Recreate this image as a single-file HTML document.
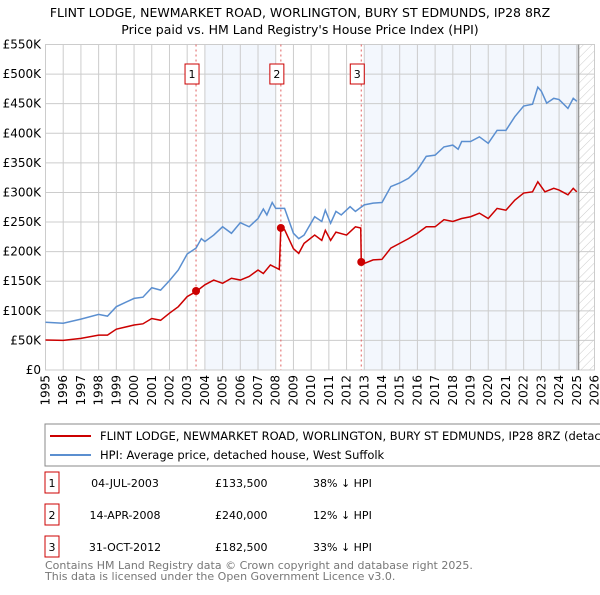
<!DOCTYPE html>
<html><head><meta charset="utf-8"><style>
body{margin:0;background:#fff;font-family:"Liberation Sans","DejaVu Sans",sans-serif;}
svg text{font-family:"DejaVu Sans","Liberation Sans",sans-serif;}
</style></head><body>
<svg id="c" width="600" height="590" xmlns="http://www.w3.org/2000/svg">
<defs><pattern id="hatch" width="6" height="6" patternUnits="userSpaceOnUse" patternTransform="rotate(45)"><line x1="0" y1="0" x2="0" y2="6" stroke="#ccc" stroke-width="1"/></pattern></defs>
<text x="300" y="17" text-anchor="middle" font-size="12.5" fill="#000">FLINT LODGE, NEWMARKET ROAD, WORLINGTON, BURY ST EDMUNDS, IP28 8RZ</text>
<text x="300" y="34" text-anchor="middle" font-size="12.5" fill="#000">Price paid vs. HM Land Registry's House Price Index (HPI)</text>
<g id="plot"></g>
<rect x="45" y="424" width="560" height="42" fill="#fff" stroke="#888"/>
<line x1="50" y1="436" x2="91" y2="436" stroke="#cc0000" stroke-width="2"/>
<text x="100" y="440" font-size="11.5">FLINT LODGE, NEWMARKET ROAD, WORLINGTON, BURY ST EDMUNDS, IP28 8RZ (detached house)</text>
<line x1="50" y1="455" x2="91" y2="455" stroke="#5b8fd0" stroke-width="2"/>
<text x="100" y="459" font-size="11.5">HPI: Average price, detached house, West Suffolk</text>
<g id="table" font-size="11"></g>
<text x="45" y="569" font-size="11" fill="#777">Contains HM Land Registry data © Crown copyright and database right 2025.</text>
<text x="45" y="580" font-size="11" fill="#777">This data is licensed under the Open Government Licence v3.0.</text>
</svg>
<script>
const hpiYears=[1995,1996,1997,1998,1998.5,1999,2000,2000.5,2001,2001.5,2002,2002.5,2003,2003.5,2003.8,2004,2004.5,2005,2005.5,2006,2006.5,2007,2007.3,2007.5,2007.8,2008,2008.5,2009,2009.3,2009.6,2010.2,2010.6,2010.8,2011.1,2011.4,2011.7,2012.2,2012.5,2013,2013.5,2014,2014.5,2015,2015.5,2016,2016.5,2017,2017.5,2018,2018.3,2018.5,2019,2019.5,2020,2020.5,2021,2021.5,2022,2022.5,2022.8,2023,2023.3,2023.7,2024,2024.5,2024.8,2025];
const hpiValues=[80.6,79,86,94,91,107,121,123,139,135,151,169,196,206,222,217,228,242,231,249,242,256,272,262,283,273,273,231,222,228,259,251,270,248,268,262,276,268,279,282,283,310,316,324,338,361,363,377,380,373,386,386,394,383,405,405,428,446,449,478,471,451,459,457,442,459,454];
const ppYears=[1995,1996,1997,1998,1998.5,1999,2000,2000.5,2001,2001.5,2002,2002.5,2003,2003.5,2004,2004.5,2005,2005.5,2006,2006.5,2007,2007.3,2007.7,2008.2,2008.29,2008.5,2009,2009.3,2009.6,2010.2,2010.6,2010.8,2011.1,2011.4,2012,2012.5,2012.8,2012.83,2013,2013.5,2014,2014.5,2015,2015.5,2016,2016.5,2017,2017.5,2018,2018.5,2019,2019.5,2020,2020.5,2021,2021.5,2022,2022.5,2022.8,2023.2,2023.7,2024,2024.5,2024.8,2025];
const ppValues=[50.7,50,53.5,59,59,69,76,78,87,84,96,107,124,132.5,144,152,146.5,155,152,158,169,163,177.5,170,240,237,205,197,214,228,219,236,219,233,228,242,240,182.5,180,186,187,206,214,222,231,242,242,254,251,256,259,265,256,273,270,287,299,301,318,301,307,304,296,307,301];
const saleYears=[2003.5,2008.29,2012.83];
const saleValues=[133.5,240,182.5];
const saleLabels=["1","2","3"];
const saleDates=["04-JUL-2003","14-APR-2008","31-OCT-2012"];
const salePrices=["£133,500","£240,000","£182,500"];
const saleDiffs=["38% ↓ HPI","12% ↓ HPI","33% ↓ HPI"];
const yTicks=[0,50,100,150,200,250,300,350,400,450,500,550];
const yTickLabels=["£0","£50K","£100K","£150K","£200K","£250K","£300K","£350K","£400K","£450K","£500K","£550K"];
const xTicks=[1995,1996,1997,1998,1999,2000,2001,2002,2003,2004,2005,2006,2007,2008,2009,2010,2011,2012,2013,2014,2015,2016,2017,2018,2019,2020,2021,2022,2023,2024,2025,2026];

const X0=45.5,X1=594.5,Y0=370,Y1=44.5;
const x=v=>X0+(v-1995)/(2026-1995)*(X1-X0);
const y=v=>Y0-v/550*(Y0-Y1);
const NS="http://www.w3.org/2000/svg";
const plot=document.getElementById('plot');
function mk(tag,attrs,parent){const e=document.createElementNS(NS,tag);for(const k in attrs)e.setAttribute(k,attrs[k]);(parent||plot).appendChild(e);return e;}

let r=mk('rect',{x:x(2004),y:Y1,width:x(2008)-x(2004),height:Y0-Y1,fill:'#eef3fc',opacity:0.7});


r=mk('rect',{x:x(2013),y:Y1,width:x(2025.1)-x(2013),height:Y0-Y1,fill:'#eef3fc',opacity:0.7});


r=mk('rect',{x:x(2025.1),y:Y1,width:X1-x(2025.1),height:Y0-Y1,fill:'url(#hatch)'});



yTicks.forEach((t,i)=>{
 let l=mk('line',{x1:X0,x2:X1,y1:y(t),y2:y(t),stroke:'#ccc'});
 
 
 let tx=mk('text',{x:41,y:y(t)+4,'text-anchor':'end','font-size':12});
 
 
 tx.textContent=yTickLabels[i];
});
xTicks.forEach(t=>{
 let l=mk('line',{x1:x(t),x2:x(t),y1:Y1,y2:Y0,stroke:'#ccc'});
 
 
 let tx=mk('text',{transform:`translate(${x(t)+4},${Y0+5}) rotate(-90)`,'text-anchor':'end','font-size':12});
 
 
 tx.textContent=t;
});
let b=mk('rect',{x:X0,y:Y1,width:X1-X0,height:Y0-Y1,fill:'none',stroke:'#ccc'});


let nl=mk('line',{x1:x(2025.1),x2:x(2025.1),y1:Y1,y2:Y0,stroke:'#999','stroke-width':1.5});



saleYears.forEach((s,i)=>{
 let l=mk('line',{x1:x(s),x2:x(s),y1:Y1,y2:Y0,stroke:'#e06060','stroke-dasharray':'2,3'});
 
 
 let bx=mk('rect',{x:x(s)-11,y:64,width:14,height:20,fill:'#fff',stroke:'#cc0000'});
 
 
 let tx=mk('text',{x:x(s)-4,y:78,'text-anchor':'middle','font-size':11});
 
 
 tx.textContent=saleLabels[i];
});
let p=mk('polyline',{points:hpiYears.map((v,i)=>x(v)+','+y(hpiValues[i])).join(' '),fill:'none',stroke:'#5b8fd0','stroke-width':1.5});


p=mk('polyline',{points:ppYears.map((v,i)=>x(v)+','+y(ppValues[i])).join(' '),fill:'none',stroke:'#cc0000','stroke-width':1.5});


saleYears.forEach((s,i)=>{
 let c=mk('circle',{cx:x(s),cy:y(saleValues[i]),r:4,fill:'#cc0000'});
 
 
});
const tb=document.getElementById('table');
saleLabels.forEach((s,i)=>{
 const cy=483+i*32;
 let bx=mk('rect',{x:45,y:cy-11,width:14,height:21,fill:'#fff',stroke:'#cc0000'},tb);
 
 
 const cells=[[52,s,'middle'],[125,saleDates[i],'middle'],[215,salePrices[i],'start'],[313,saleDiffs[i],'start']];
 cells.forEach(cl=>{
  let t=mk('text',{x:cl[0],y:cy+4,'text-anchor':cl[2]},tb);
  
  
  t.textContent=cl[1];
 });
});
</script>
</body></html>
